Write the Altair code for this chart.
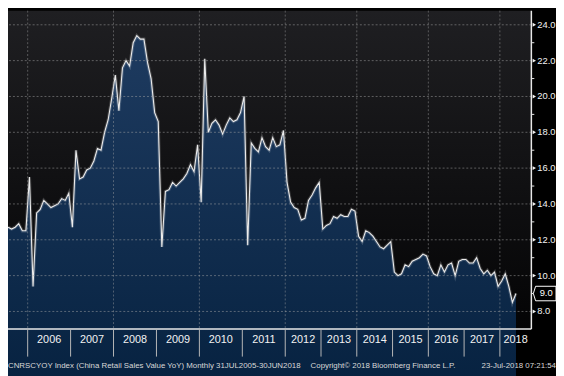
import altair as alt
import pandas as pd

# ---------------- data ----------------
years = [2005, 2006, 2007, 2008, 2009, 2010, 2011, 2012, 2013, 2014, 2015, 2016, 2017, 2018]
v2005 = [12.7, 12.6, 12.7, 12.9, 12.5, 12.5]
v2006 = [15.5, 9.4, 13.5, 13.7, 14.2, 14.0, 13.8, 13.9, 14.0, 14.3, 14.2, 14.6]
v2007 = [12.7, 17.0, 15.4, 15.5, 15.9, 16.0, 16.4, 17.1, 17.0, 18.0, 18.7, 19.9]
v2008 = [21.2, 19.2, 21.6, 22.0, 21.7, 23.0, 23.4, 23.2, 23.2, 21.9, 21.0, 19.1]
v2009 = [18.6, 11.6, 14.7, 14.8, 15.2, 15.0, 15.2, 15.4, 15.7, 16.2, 15.8, 17.3]
v2010 = [14.1, 22.1, 18.0, 18.5, 18.7, 18.4, 17.9, 18.4, 18.8, 18.6, 18.7, 19.1]
v2011 = [20.0, 11.7, 17.4, 17.1, 16.9, 17.7, 17.2, 17.0, 17.7, 17.2, 17.3, 18.1]
v2012 = [15.2, 14.1, 13.8, 13.7, 13.1, 13.2, 14.2, 14.5, 14.9, 15.2]
v2013 = [12.6, 12.8, 12.9, 13.3, 13.2, 13.4, 13.3, 13.3, 13.7, 13.6]
v2014 = [12.2, 11.9, 12.5, 12.4, 12.2, 11.9, 11.6, 11.5, 11.7, 11.9]
v2015 = [10.2, 10.0, 10.1, 10.6, 10.5, 10.8, 10.9, 11.0, 11.2, 11.1]
v2016 = [10.5, 10.1, 10.0, 10.6, 10.2, 10.6, 10.7, 10.0, 10.8, 10.9]
v2017 = [10.9, 10.7, 10.7, 11.0, 10.4, 10.1, 10.3, 10.0, 10.2, 9.4]
v2018 = [9.7, 10.1, 9.4, 8.5, 9.0]
series = [v2005, v2006, v2007, v2008, v2009, v2010, v2011, v2012,
          v2013, v2014, v2015, v2016, v2017, v2018]

y_major = [8, 10, 12, 14, 16, 18, 20, 22, 24]
y_minor = [9, 11, 13, 15, 17, 19, 21, 23]
grid_years = [2006, 2008, 2010, 2012, 2014, 2016, 2018]

footer_left = "CNRSCYOY Index (China Retail Sales Value YoY)  Monthly 31JUL2005-30JUN2018"
footer_mid = "Copyright\u00a9 2018 Bloomberg Finance L.P."
footer_right = "23-Jul-2018 07:21:54"

# ---------------- derived tables ----------------
values = [v for ys in series for v in ys]
idx = list(range(len(values)))
starts = []
s = 0
for ys in series:
    starts.append(s)
    s += len(ys)
x_max = 146.3
bounds = [st - 0.5 for st in starts[1:]]           # year separators (2006..2018)
ends = bounds[1:] + [x_max]
mids = [(a + b) / 2 for a, b in zip(bounds, ends)]
label_years = [str(y) for y in years[1:]]
grid_x = [bounds[years[1:].index(y)] for y in grid_years]

df = pd.DataFrame({"i": idx, "v": values})

W, H = 531, 323
FONT = "Liberation Sans Narrow, Arial Narrow, Liberation Sans, sans-serif"
AX = "#e8e8e8"

xs = alt.Scale(domain=[0, x_max], nice=False, zero=False)
ys_ = alt.Scale(domain=[7.02, 24.79], nice=False, zero=False)


def X(f):
    return alt.X(f, scale=xs, axis=None)


def Y(f):
    return alt.Y(f, scale=ys_, axis=None)


one = pd.DataFrame({"k": [0]})

bg = alt.Chart(one).mark_rect(
    color=alt.Gradient(
        gradient="linear",
        stops=[alt.GradientStop(color="#1f1f22", offset=0),
               alt.GradientStop(color="#040405", offset=1)],
        x1=0, x2=0, y1=0, y2=1,
    )
).encode(x=alt.value(0), x2=alt.value(W), y=alt.value(0), y2=alt.value(H))

area = alt.Chart(df).mark_area(
    color=alt.Gradient(
        gradient="linear",
        stops=[alt.GradientStop(color="#1e3b60", offset=0),
               alt.GradientStop(color="#021d3a", offset=1)],
        x1=0, x2=0, y1=0, y2=1,
    )
).encode(x=X("i:Q"), y=Y("v:Q"), y2=alt.value(H))

glow = alt.Chart(df).mark_line(color="#ffffff", strokeWidth=3.2, opacity=0.18).encode(
    x=X("i:Q"), y=Y("v:Q"))
line = alt.Chart(df).mark_line(color="#ececec", strokeWidth=1.1).encode(
    x=X("i:Q"), y=Y("v:Q"))

hgrid = alt.Chart(pd.DataFrame({"g": y_major})).mark_rule(
    color="#a8a8a8", strokeDash=[2, 2], opacity=0.5, strokeWidth=1
).encode(y=Y("g:Q"))
vgrid = alt.Chart(pd.DataFrame({"b": grid_x})).mark_rule(
    color="#a8a8a8", strokeDash=[2, 2], opacity=0.45, strokeWidth=1
).encode(x=X("b:Q"))

# ---- bottom axis (drawn by hand) ----
xdomain = alt.Chart(one).mark_rule(color=AX, strokeWidth=1.5).encode(
    x=alt.value(0), x2=alt.value(W), y=alt.value(H))
xticks = alt.Chart(pd.DataFrame({"b": bounds})).mark_rule(color="#b8b8b8", strokeWidth=1).encode(
    x=X("b:Q"), y=alt.value(H), y2=alt.value(H + 28))
yr = alt.Chart(pd.DataFrame({"m": mids, "yr": label_years})).mark_text(
    color="#f2f2f2", font=FONT, fontSize=11, baseline="middle", align="center"
).encode(x=X("m:Q"), y=alt.value(H + 11), text="yr:N")

# ---- right axis (drawn by hand) ----
ydomain = alt.Chart(one).mark_rule(color=AX, strokeWidth=1.5).encode(
    x=alt.value(W), y=alt.value(0), y2=alt.value(H))
yminor = alt.Chart(pd.DataFrame({"t": y_minor})).mark_rule(color=AX, strokeWidth=1).encode(
    x=alt.value(W), x2=alt.value(W + 3), y=Y("t:Q"))
tri = alt.Chart(pd.DataFrame({"t": y_major})).mark_point(
    shape="triangle-right", size=16, filled=True, fill="#f2f2f2", opacity=1
).encode(x=alt.value(W + 3), y=Y("t:Q"))
ylab = alt.Chart(pd.DataFrame({"t": y_major, "s": [f"{v:.1f}" for v in y_major]})).mark_text(
    color="#f2f2f2", font=FONT, fontSize=9.5, baseline="middle", align="left"
).encode(x=alt.value(W + 6), y=Y("t:Q"), text="s:N")

last = pd.DataFrame({"v": [values[-1]], "t": [f"{values[-1]:.1f}"]})
box = alt.Chart(last).mark_point(
    shape="M-1,0L-0.8,-0.64L1,-0.64L1,0.64L-0.8,0.64Z", size=529, filled=True,
    fill="#000000", stroke="#ffffff", strokeWidth=1, opacity=1
).encode(x=alt.value(W + 13.5), y=Y("v:Q"))
boxtxt = alt.Chart(last).mark_text(
    color="#ffffff", font=FONT, fontSize=9.5, baseline="middle", align="center", dx=1.5
).encode(x=alt.value(W + 13.5), y=Y("v:Q"), text="t:N")

foot = pd.DataFrame({"a": [footer_left], "b": [footer_mid], "c": [footer_right]})
f1 = alt.Chart(foot).mark_text(color="#d8d8d8", font=FONT, fontSize=8, align="left",
                               baseline="middle").encode(
    x=alt.value(0), y=alt.value(H + 38), text="a:N")
f2 = alt.Chart(foot).mark_text(color="#d8d8d8", font=FONT, fontSize=8, align="left",
                               baseline="middle").encode(
    x=alt.value(307), y=alt.value(H + 38), text="b:N")
f3 = alt.Chart(foot).mark_text(color="#d8d8d8", font=FONT, fontSize=8, align="right",
                               baseline="middle").encode(
    x=alt.value(W + 25), y=alt.value(H + 38), text="c:N")

chart = alt.layer(
    bg, area, glow, line, hgrid, vgrid, xdomain, xticks, yr,
    ydomain, yminor, tri, ylab, box, boxtxt, f1, f2, f3
).properties(
    width=W, height=H,
    autosize=alt.AutoSizeParams(type="none"),
    padding={"left": 0, "top": 0, "right": 25, "bottom": 45},
    background="#000000",
).configure_view(strokeWidth=0)

chart.save("out.html", embed_options={"renderer": "svg", "actions": False})
